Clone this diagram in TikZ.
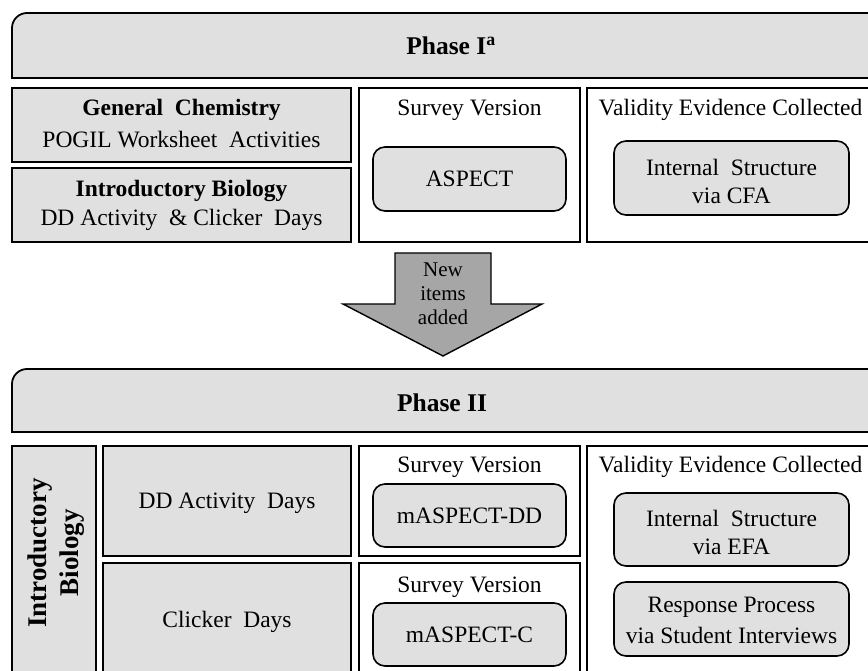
\documentclass[tikz,border=0pt]{standalone}
\usepackage{fontspec}
\setmainfont{Liberation Serif}
\definecolor{boxgray}{HTML}{E0E0E0}
\definecolor{arrowgray}{HTML}{A6A6A6}
\tikzset{
  x=1pt, y=-1pt,
  frame/.style={draw=black, line width=1.8pt},
  graybox/.style={frame, fill=boxgray, inner sep=0pt, align=center},
  whitebox/.style={frame, fill=white, inner sep=0pt},
  pill/.style={draw=black, line width=1.6pt, fill=boxgray, rounded corners=12pt, inner sep=0pt, align=center},
  txt/.style={inner sep=0pt, align=center, font=\fontsize{23.5}{29}\selectfont},
  btxt/.style={inner sep=0pt, align=center, font=\fontsize{23.5}{29}\selectfont\bfseries},
  ttl/.style={inner sep=0pt, align=center, font=\fontsize{25.5}{30}\selectfont\bfseries},
}
\begin{document}
\begin{tikzpicture}
\useasboundingbox (0,0) rectangle (868,671);
\clip (0,0) rectangle (868,671);

% ---------- Phase I ----------
\path[frame, fill=boxgray, rounded corners=15pt] (12,13) rectangle (890,78);
\fill[boxgray] (13,40) rectangle (889,77);
\draw[line width=1.8pt] (12,40) -- (12,78) -- (890,78);
\node[ttl] (p1) at (451,46) {Phase I\textsuperscript{a}};

\node[graybox, minimum width=339pt, minimum height=74pt] (gc) at (181.5,125) {};
\node[btxt] (gct) at (181.5,110) {General\ \ Chemistry};
\node[txt] (gcs) at (181.5,140) {POGIL Worksheet\ \ Activities};

\node[graybox, minimum width=339pt, minimum height=74pt] (ib1) at (181.5,205) {};
\node[btxt] (ibt) at (181.5,191) {Introductory Biology};
\node[txt] (ibs) at (181.5,220) {DD Activity\ \ \& Clicker\ \ Days};

\node[whitebox, minimum width=221pt, minimum height=154pt] (sv1) at (469.5,165) {};
\node[txt] (sv1t) at (469.5,110) {Survey Version};
\node[pill, minimum width=193pt, minimum height=64pt, txt] (asp) at (469.5,179) {ASPECT};

\node[whitebox, minimum width=313pt, minimum height=154pt] (val1) at (743.5,165) {};
\node[txt] (val1t) at (730.5,110) {Validity Evidence Collected};
\node[pill, minimum width=235pt, minimum height=74pt] (is1) at (731.5,178) {};
\node[txt] (is1a) at (731.5,167) {Internal\ \ Structure};
\node[txt] (is1b) at (731.5,196) {via CFA};

% ---------- Arrow ----------
\coordinate (a1) at (395,253);
\coordinate (a2) at (491,253);
\coordinate (a3) at (491,304);
\coordinate (a4) at (542,304);
\coordinate (a5) at (443,356);
\coordinate (a6) at (343,304);
\coordinate (a7) at (395,304);
\draw[line width=1.4pt, fill=arrowgray, line join=miter] (a1) -- (a2) -- (a3) -- (a4) -- (a5) -- (a6) -- (a7) -- cycle;
\node[inner sep=0pt, align=center, font=\fontsize{21}{24}\selectfont] (new) at (443,294) {New\\items\\added};

% ---------- Phase II ----------
\path[frame, fill=boxgray, rounded corners=15pt] (12,369) rectangle (890,432);
\fill[boxgray] (13,395) rectangle (889,431);
\draw[line width=1.8pt] (12,395) -- (12,432) -- (890,432);
\node[ttl] (p2) at (442,403) {Phase II};

\node[graybox, minimum width=84pt, minimum height=254pt] (ib2) at (54,573) {};
\node[rotate=90, inner sep=0pt, align=center, font=\fontsize{27}{32}\selectfont\bfseries] (ib2t) at (56,553) {Introductory\\Biology};

\node[graybox, minimum width=248pt, minimum height=110pt] (dd) at (227,501) {};
\node[txt] (ddt) at (227,503) {DD Activity\ \ Days};
\node[graybox, minimum width=248pt, minimum height=137pt] (ck) at (227,631.5) {};
\node[txt] (ckt) at (227,622) {Clicker\ \ Days};

\node[whitebox, minimum width=221pt, minimum height=110pt] (sv2) at (469.5,501) {};
\node[txt] (sv2t) at (469.5,467) {Survey Version};
\node[pill, minimum width=193pt, minimum height=63pt, txt] (mdd) at (469.5,515.5) {mASPECT-DD};

\node[whitebox, minimum width=221pt, minimum height=137pt] (sv3) at (469.5,631.5) {};
\node[txt] (sv3t) at (469.5,587) {Survey Version};
\node[pill, minimum width=193pt, minimum height=63pt, txt] (mc) at (469.5,634.5) {mASPECT-C};

\node[whitebox, minimum width=313pt, minimum height=254pt] (val2) at (743.5,573) {};
\node[txt] (val2t) at (730.5,467) {Validity Evidence Collected};
\node[pill, minimum width=235pt, minimum height=73pt] (is2) at (731.5,529.5) {};
\node[txt] (is2a) at (731.5,518) {Internal\ \ Structure};
\node[txt] (is2b) at (731.5,547) {via EFA};
\node[pill, minimum width=235pt, minimum height=74pt] (rp) at (731.5,619) {};
\node[txt] (rpa) at (731.5,607) {Response Process};
\node[txt] (rpb) at (731.5,635) {via Student Interviews};
\end{tikzpicture}
\end{document}
